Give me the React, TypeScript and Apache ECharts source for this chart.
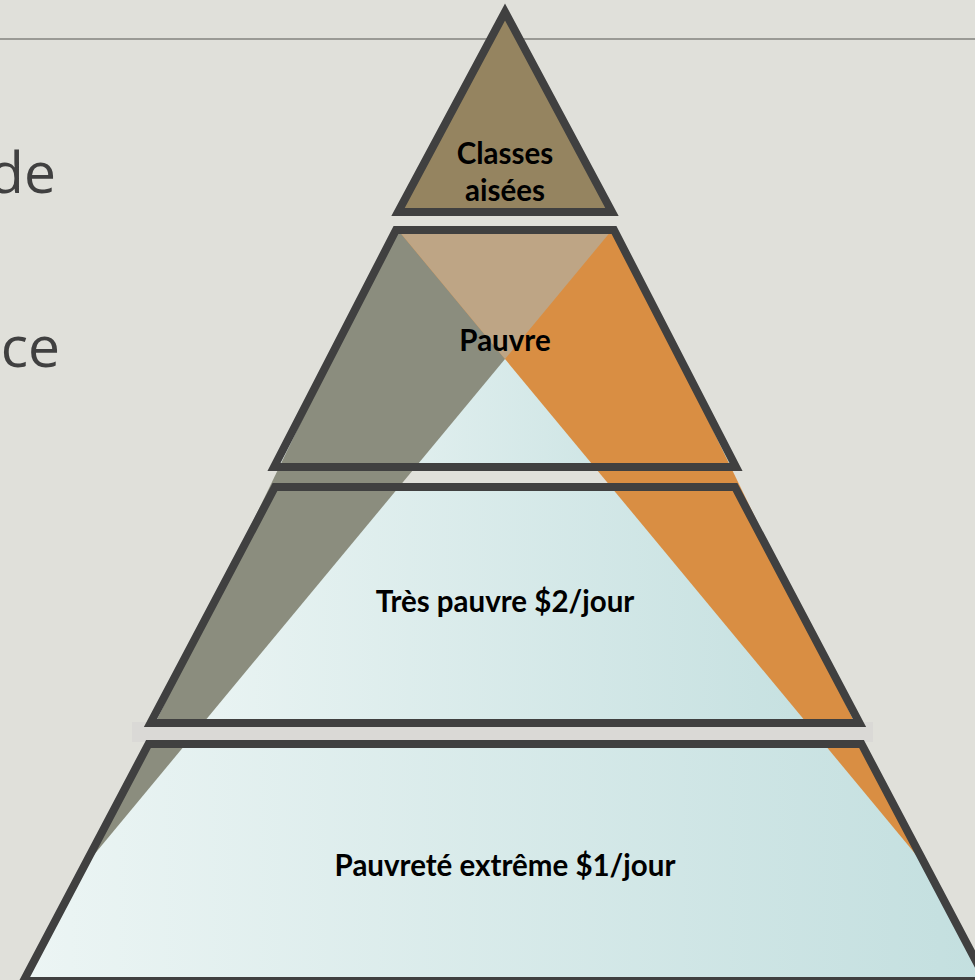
import React, { useEffect, useRef } from 'react';
import * as echarts from 'echarts';

// Pyramid tiers (top to bottom)
const tierLabels: string[] = ['Classes\naisées', 'Pauvre', 'Très pauvre $2/jour', 'Pauvreté extrême $1/jour'];
const tierTopLevel: number[] = [12, 230, 487, 744];
const tierBottomLevel: number[] = [212, 467, 723, 981];
const tierTopHalfSpan: number[] = [0, 109, 230, 356.5];
const tierBottomHalfSpan: number[] = [107, 231, 354.5, 481.5];
const tierLabelBaseline: number[] = [162, 349, 610, 874];

// Overlay bands (gauche = gris, droite = orange, croisement = beige)
const overlayNames: string[] = ['gauche', 'droite', 'croisement'];
const overlayXs: number[][] = [[394, 612, 88], [616, 398, 922], [398, 612, 505]];
const overlayYs: number[][] = [[230, 230, 862], [230, 230, 862], [230, 230, 359]];

// Separator band between the two lower tiers
const separatorX: number[] = [132, 873];
const separatorY: number[] = [722, 742];

const CENTER = 505;
const W = 975;
const H = 980;

const STROKE = '#404040';
const overlayColors = ['#8b8d7e', '#d98e43', '#bea585'];

function tierPoints(i: number): number[][] {
  const t = tierTopLevel[i];
  const b = tierBottomLevel[i];
  const th = tierTopHalfSpan[i];
  const bh = tierBottomHalfSpan[i];
  if (th === 0) {
    return [[CENTER, t], [CENTER + bh, b], [CENTER - bh, b]];
  }
  return [[CENTER - th, t], [CENTER + th, t], [CENTER + bh, b], [CENTER - bh, b]];
}

export default function App() {
  const ref = useRef<HTMLDivElement>(null);
  useEffect(() => {
    document.body.style.margin = '0';
    document.body.style.overflow = 'hidden';
    const chart = echarts.init(ref.current!, null, { renderer: 'svg', width: W, height: H });
    const tierGradient = () =>
      new echarts.graphic.LinearGradient(0, 0, 1, 0, [
        { offset: 0, color: '#ecf5f4' },
        { offset: 1, color: '#c3dfdf' },
      ]);
    const tierData = tierLabels.map((_, i) => [i]);
    const option: any = {
      animation: false,
      backgroundColor: '#e0e0da',
      grid: { left: 0, right: 0, top: 0, bottom: 0 },
      xAxis: { type: 'value', min: 0, max: W, show: false },
      yAxis: { type: 'value', min: 0, max: H, inverse: true, show: false },
      tooltip: { show: false },
      graphic: [
        {
          type: 'line',
          z: 0,
          shape: { x1: 0, y1: 39, x2: W, y2: 39 },
          style: { stroke: '#9a9a95', lineWidth: 2 },
        },
        {
          type: 'text', z: 0, x: 1, y: 98,
          style: { text: 't', fill: '#404040', fontFamily: 'Open Sans', fontSize: 57, align: 'right', verticalAlign: 'middle' },
        },
        {
          type: 'text', z: 0, x: 56, y: 171,
          style: { text: 'de', fill: '#404040', fontFamily: 'Open Sans', fontSize: 57, align: 'right', verticalAlign: 'middle' },
        },
        {
          type: 'text', z: 0, x: 60, y: 345,
          style: { text: 'ce', fill: '#404040', fontFamily: 'Open Sans', fontSize: 57, align: 'right', verticalAlign: 'middle' },
        },
      ],
      series: [
        {
          type: 'custom',
          name: 'fond',
          z: 1,
          silent: true,
          data: tierData,
          renderItem: (params: any, api: any) => {
            const i = api.value(0);
            const pts = tierPoints(i).map((p) => api.coord(p));
            return {
              type: 'polygon',
              shape: { points: pts },
              style: { fill: i === 0 ? '#958460' : tierGradient(), stroke: 'none' },
            };
          },
        },
        {
          type: 'custom',
          name: 'bandes',
          z: 2,
          silent: true,
          data: overlayNames.map((_, i) => [i]),
          renderItem: (params: any, api: any) => {
            const k = api.value(0);
            const pts = overlayXs[k].map((x, j) => api.coord([x, overlayYs[k][j]]));
            return {
              type: 'polygon',
              shape: { points: pts },
              style: { fill: overlayColors[k], stroke: 'none' },
            };
          },
        },
        {
          type: 'custom',
          name: 'separateur',
          z: 3,
          silent: true,
          data: [[0]],
          renderItem: (params: any, api: any) => {
            const p0 = api.coord([separatorX[0], separatorY[0]]);
            const p1 = api.coord([separatorX[1], separatorY[1]]);
            return {
              type: 'rect',
              shape: { x: p0[0], y: p0[1], width: p1[0] - p0[0], height: p1[1] - p0[1] },
              style: { fill: '#dad9d6' },
            };
          },
        },
        {
          type: 'custom',
          name: 'contours',
          z: 4,
          silent: true,
          data: tierData,
          renderItem: (params: any, api: any) => {
            const i = api.value(0);
            const pts = tierPoints(i).map((p) => api.coord(p));
            return {
              type: 'polygon',
              shape: { points: pts },
              style: { fill: 'none', stroke: STROKE, lineWidth: 8, lineJoin: 'miter', miterLimit: 10 },
            };
          },
        },
        {
          type: 'custom',
          name: 'etiquettes',
          z: 5,
          silent: true,
          data: tierData,
          renderItem: (params: any, api: any) => {
            const i = api.value(0);
            const lines = tierLabels[i].split('\n').length;
            const lh = 37;
            const centerY = tierLabelBaseline[i] - 10 + ((lines - 1) * lh) / 2;
            const p = api.coord([CENTER, centerY]);
            return {
              type: 'text',
              x: p[0],
              y: p[1],
              style: {
                text: tierLabels[i],
                fill: '#000000',
                fontFamily: 'Lato',
                fontWeight: 'bold',
                fontSize: 29.5,
                lineHeight: lh,
                align: 'center',
                verticalAlign: 'middle',
              },
            };
          },
        },
      ],
    };
    chart.setOption(option);
    return () => chart.dispose();
  }, []);
  return <div ref={ref} style={{ position: 'absolute', left: 0, top: 0, width: W, height: H }} />;
}
